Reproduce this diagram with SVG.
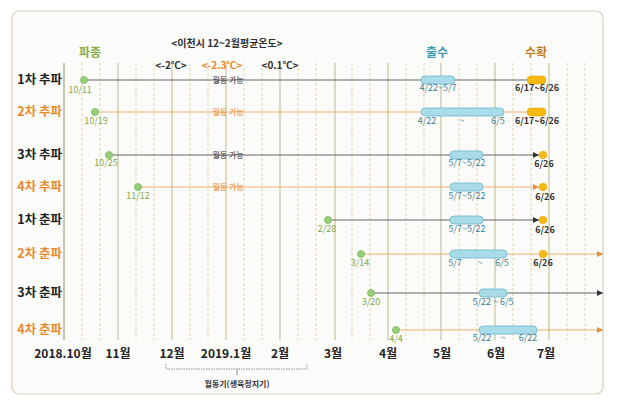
<svg xmlns="http://www.w3.org/2000/svg" width="618" height="404" viewBox="0 0 618 404">
<defs>
<style>
text{font-family:"Noto Sans CJK KR","Noto Sans",sans-serif;}
.frame{fill:#fbfbfa;stroke:#d9cfbf;stroke-width:1.2}
.mon{stroke:#c9c39c;stroke-width:1.2}
.axis{stroke:#a9a47c;stroke-width:1.2}
.dash{stroke:#dccfa6;stroke-width:0.9;stroke-dasharray:3,2}
.rl{font-size:12.5px;font-weight:bold;text-anchor:end}
.blk{fill:#222}
.org{fill:#e8892a}
.ml{font-size:12px;font-weight:bold;fill:#222;text-anchor:middle}
.gl{stroke:#666;stroke-width:1.2}
.ol{stroke:#f2b070;stroke-width:1.2}
.seed{fill:#98cf78;stroke:#7ab85a;stroke-width:0.8}
.pill{fill:#a9dbe8;stroke:#6db6cc;stroke-width:0.8}
.harv{fill:#f7b911;stroke:#eaa800;stroke-width:0.6}
.sg{font-size:9px;fill:#84a84a;text-anchor:middle}
.sb{font-size:9px;fill:#3d7f90;text-anchor:middle}
.sk{font-size:9px;fill:#333;font-weight:bold;text-anchor:middle}
.wd{font-size:8px;text-anchor:middle}
.hd{font-size:10px;font-weight:bold;text-anchor:middle}
</style>
<marker id="ag" viewBox="0 0 6 6" refX="6" refY="3" markerWidth="5" markerHeight="5" orient="auto"><path d="M0,0 L6,3 L0,6 z" fill="#333"/></marker>
<marker id="ao" viewBox="0 0 6 6" refX="6" refY="3" markerWidth="5" markerHeight="5" orient="auto"><path d="M0,0 L6,3 L0,6 z" fill="#e89040"/></marker>
</defs>

<rect class="frame" x="12" y="11" width="591" height="383" rx="7"/>

<g id="grid">
<line class="axis" x1="64" y1="63" x2="64" y2="340"/>
<line class="mon" x1="118" y1="63" x2="118" y2="340"/>
<line class="mon" x1="172" y1="63" x2="172" y2="340"/>
<line class="mon" x1="226" y1="63" x2="226" y2="340"/>
<line class="mon" x1="280" y1="63" x2="280" y2="340"/>
<line class="mon" x1="335" y1="63" x2="335" y2="340"/>
<line class="mon" x1="388" y1="63" x2="388" y2="340"/>
<line class="mon" x1="441" y1="63" x2="441" y2="340"/>
<line class="mon" x1="495" y1="63" x2="495" y2="340"/>
<line class="mon" x1="549" y1="63" x2="549" y2="340"/>
<g class="dash">
<line x1="82" y1="63" x2="82" y2="340"/><line x1="100" y1="63" x2="100" y2="340"/>
<line x1="136" y1="63" x2="136" y2="340"/><line x1="154" y1="63" x2="154" y2="340"/>
<line x1="190" y1="63" x2="190" y2="340"/><line x1="208" y1="63" x2="208" y2="340"/>
<line x1="244" y1="63" x2="244" y2="340"/><line x1="262" y1="63" x2="262" y2="340"/>
<line x1="298" y1="63" x2="298" y2="340"/><line x1="316" y1="63" x2="316" y2="340"/>
<line x1="352" y1="63" x2="352" y2="340"/><line x1="370" y1="63" x2="370" y2="340"/>
<line x1="406" y1="63" x2="406" y2="340"/><line x1="424" y1="63" x2="424" y2="340"/>
<line x1="459" y1="63" x2="459" y2="340"/><line x1="477" y1="63" x2="477" y2="340"/>
<line x1="513" y1="63" x2="513" y2="340"/><line x1="531" y1="63" x2="531" y2="340"/>
<line x1="567" y1="63" x2="567" y2="340"/><line x1="585" y1="63" x2="585" y2="340"/>
</g>
</g>

<g id="headers">
<text class="hd" x="227" y="47" fill="#333">&lt;이천시 12~2월평균온도&gt;</text>
<text x="90" y="57" font-size="12" font-weight="bold" fill="#8aab45" text-anchor="middle">파종</text>
<text class="hd" x="171" y="69" fill="#333">&lt;-2℃&gt;</text>
<text class="hd" x="222" y="69" fill="#e8892a">&lt;-2.3℃&gt;</text>
<text class="hd" x="280" y="69" fill="#333">&lt;0.1℃&gt;</text>
<text x="437" y="57" font-size="12" font-weight="bold" fill="#3a9aae" text-anchor="middle">출수</text>
<text x="536" y="57" font-size="12" font-weight="bold" fill="#c07d22" text-anchor="middle">수확</text>
</g>

<g id="row-labels">
<text class="rl blk" x="62" y="84">1차 추파</text>
<text class="rl org" x="62" y="116">2차 추파</text>
<text class="rl blk" x="62" y="159">3차 추파</text>
<text class="rl org" x="62" y="191">4차 추파</text>
<text class="rl blk" x="62" y="224">1차 춘파</text>
<text class="rl org" x="62" y="258">2차 춘파</text>
<text class="rl blk" x="62" y="297">3차 춘파</text>
<text class="rl org" x="62" y="334">4차 춘파</text>
</g>

<g id="connectors">
<line class="gl" x1="84" y1="80" x2="527" y2="80"/>
<line class="ol" x1="95" y1="112" x2="527" y2="112"/>
<line class="gl" x1="109" y1="155" x2="539" y2="155" marker-end="url(#ag)"/>
<line class="ol" x1="138" y1="187" x2="539" y2="187" marker-end="url(#ao)"/>
<line class="gl" x1="328" y1="220" x2="539" y2="220" marker-end="url(#ag)"/>
<line class="ol" x1="361" y1="254" x2="603" y2="254" marker-end="url(#ao)"/>
<line class="gl" x1="371" y1="293" x2="603" y2="293" marker-end="url(#ag)"/>
<line class="ol" x1="396" y1="330" x2="603" y2="330" marker-end="url(#ao)"/>
</g>

<g id="row1">
<circle class="seed" cx="84" cy="80" r="3.5"/>
<text class="sg" x="80" y="93">10/11</text>
<text class="wd" x="228" y="83" fill="#333">월동 가능</text>
<rect class="pill" x="421" y="76" width="34" height="8" rx="4"/>
<text class="sb" x="438" y="91">4/22~5/7</text>
<rect class="harv" x="527" y="76" width="19" height="8" rx="4"/>
<text class="sk" x="537" y="91">6/17~6/26</text>
</g>

<g id="row2">
<circle class="seed" cx="95" cy="112" r="3.5"/>
<text class="sg" x="96" y="124">10/19</text>
<text class="wd" x="228" y="115" fill="#e8892a">월동 가능</text>
<rect class="pill" x="421" y="108" width="83" height="8" rx="4"/>
<text class="sb" x="427" y="124">4/22</text>
<text class="sb" x="462" y="124">~</text>
<text class="sb" x="498" y="124">6/5</text>
<rect class="harv" x="527" y="108" width="19" height="8" rx="4"/>
<text class="sk" x="537" y="124">6/17~6/26</text>
</g>

<g id="row3">
<circle class="seed" cx="109" cy="155" r="3.5"/>
<text class="sg" x="106" y="166">10/25</text>
<text class="wd" x="228" y="158" fill="#333">월동 가능</text>
<rect class="pill" x="450" y="151" width="33" height="8" rx="4"/>
<text class="sb" x="467" y="166">5/7~5/22</text>
<circle class="harv" cx="543" cy="155" r="3.8"/>
<text class="sk" x="544" y="167">6/26</text>
</g>

<g id="row4">
<circle class="seed" cx="138" cy="187" r="3.5"/>
<text class="sg" x="138" y="199">11/12</text>
<text class="wd" x="228" y="190" fill="#e8892a">월동 가능</text>
<rect class="pill" x="450" y="183" width="33" height="8" rx="4"/>
<text class="sb" x="467" y="199">5/7~5/22</text>
<circle class="harv" cx="543" cy="187" r="3.8"/>
<text class="sk" x="545" y="200">6/26</text>
</g>

<g id="row5">
<circle class="seed" cx="328" cy="220" r="3.5"/>
<text class="sg" x="327" y="232">2/28</text>
<rect class="pill" x="450" y="216" width="33" height="8" rx="4"/>
<text class="sb" x="467" y="232">5/7~5/22</text>
<circle class="harv" cx="543" cy="220" r="3.8"/>
<text class="sk" x="545" y="233">6/26</text>
</g>

<g id="row6">
<circle class="seed" cx="361" cy="254" r="3.5"/>
<text class="sg" x="360" y="266">3/14</text>
<rect class="pill" x="450" y="250" width="57" height="8" rx="4"/>
<text class="sb" x="455" y="266">5/7</text>
<text class="sb" x="480" y="266">~</text>
<text class="sb" x="502" y="266">6/5</text>
<circle class="harv" cx="543" cy="254" r="3.8"/>
<text class="sk" x="543" y="266">6/26</text>
</g>

<g id="row7">
<circle class="seed" cx="371" cy="293" r="3.5"/>
<text class="sg" x="371" y="305">3/20</text>
<rect class="pill" x="479" y="289" width="28" height="8" rx="4"/>
<text class="sb" x="493" y="305">5/22 ~  6/5</text>
</g>

<g id="row8">
<circle class="seed" cx="396" cy="330" r="3.5"/>
<text class="sg" x="396" y="342">4/4</text>
<rect class="pill" x="479" y="326" width="58" height="8" rx="4"/>
<text class="sb" x="482" y="341">5/22</text>
<text class="sb" x="503" y="341">~</text>
<text class="sb" x="528" y="341">6/22</text>
</g>

<g id="month-labels">
<text class="ml" x="63" y="358">2018.10월</text>
<text class="ml" x="118" y="358">11월</text>
<text class="ml" x="172" y="358">12월</text>
<text class="ml" x="226" y="358">2019.1월</text>
<text class="ml" x="280" y="358">2월</text>
<text class="ml" x="333" y="358">3월</text>
<text class="ml" x="388" y="358">4월</text>
<text class="ml" x="442" y="358">5월</text>
<text class="ml" x="496" y="358">6월</text>
<text class="ml" x="546" y="358">7월</text>
</g>

<g id="bracket">
<path d="M166,364 L166,369 L307,369 L307,364" fill="none" stroke="#777" stroke-width="0.8" stroke-dasharray="1.5,1"/>
<line x1="237" y1="369" x2="237" y2="375" stroke="#777" stroke-width="0.8"/>
<text x="237" y="387" font-size="8" font-weight="bold" fill="#333" text-anchor="middle">월동기(생육정지기)</text>
</g>
</svg>
